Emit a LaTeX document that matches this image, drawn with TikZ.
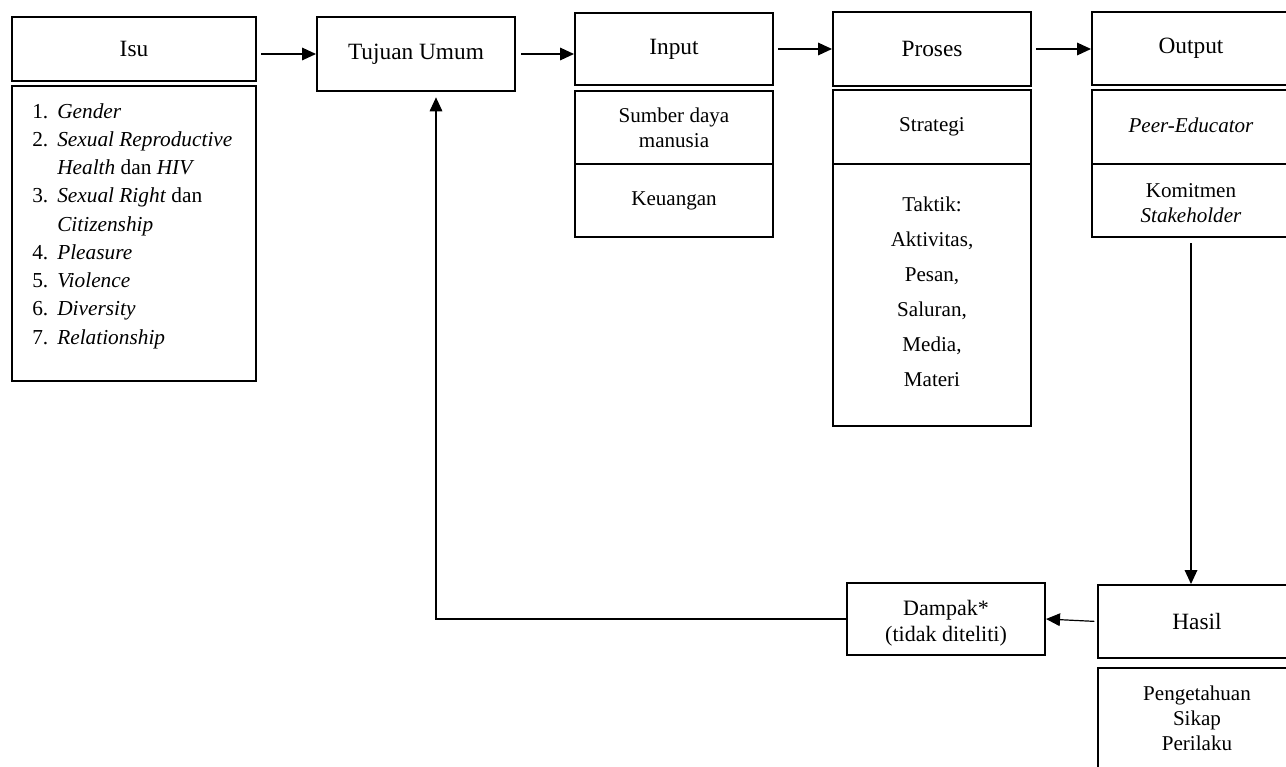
\documentclass[tikz,border=0pt]{standalone}
\usepackage{fontspec}
\setmainfont{Liberation Serif}
\usetikzlibrary{arrows.meta}
\begin{document}
\begin{tikzpicture}[x=0.75pt,y=-0.75pt,
  box/.style={draw,line width=1.5pt,inner sep=0pt,align=center,minimum width=148.5pt},
  ttl/.style={font=\fontsize{17.5}{21}\selectfont},
  subt/.style={font=\fontsize{15.8}{18.8}\selectfont,align=center,inner sep=0pt},
  arr/.style={line width=0.9pt,-{Triangle[length=10.5pt,width=9.5pt]}},
  ln/.style={line width=0.9pt}]
\useasboundingbox (0,0) rectangle (1286,767);
\clip (0,0) rectangle (1286,767);
% Isu
\node[box,ttl,minimum width=183pt,minimum height=48pt] (isu) at (134,49) {Isu};
\node[box,minimum width=183pt,minimum height=221.25pt] (isulist) at (134,233.5) {};
\node[anchor=west,inner sep=0pt,align=left,font=\fontsize{16}{21.2}\selectfont] (isutext) at (32,226)
 {\makebox[18.75pt][l]{1.}\textit{Gender}\\
  \makebox[18.75pt][l]{2.}\textit{Sexual Reproductive}\\
  \hspace*{18.75pt}\textit{Health} dan \textit{HIV}\\
  \makebox[18.75pt][l]{3.}\textit{Sexual Right} dan\\
  \hspace*{18.75pt}\textit{Citizenship}\\
  \makebox[18.75pt][l]{4.}\textit{Pleasure}\\
  \makebox[18.75pt][l]{5.}\textit{Violence}\\
  \makebox[18.75pt][l]{6.}\textit{Diversity}\\
  \makebox[18.75pt][l]{7.}\textit{Relationship}};
% Tujuan
\node[box,ttl,minimum height=55.5pt] (tujuan) at (416,54) {Tujuan Umum};
% Input
\node[box,ttl,minimum height=54pt] (input) at (674,49) {Input};
\node[box,subt,minimum height=54.75pt] (inA) at (674,127.5) {Sumber daya\\manusia};
\node[box,subt,minimum height=54.75pt] (inB) at (674,200.5) {Keuangan};
% Proses
\node[box,ttl,minimum height=55.5pt] (proses) at (932,49) {Proses};
\node[box,subt,minimum height=55.5pt] (prA) at (932,127) {Strategi};
\node[box,minimum height=196.5pt] (prB) at (932,295) {};
\node[subt,font=\fontsize{15.8}{26.25}\selectfont] (prBtext) at (932,292)
 {Taktik:\\Aktivitas,\\Pesan,\\Saluran,\\Media,\\Materi};
% Output
\node[box,ttl,minimum height=54.75pt] (output) at (1191,48.5) {Output};
\node[box,minimum height=55.5pt] (outA) at (1191,127) {};
\node[subt] (outAtext) at (1191,125) {\textit{Peer-Educator}};
\node[box,minimum height=54.75pt] (outB) at (1191,200.5) {};
\node[subt] (outBtext) at (1191,203.5) {Komitmen\\\textit{Stakeholder}};
% Hasil
\node[box,ttl,minimum height=54.75pt] (hasil) at (1197,621.5) {Hasil};
\node[box,subt,minimum height=75.75pt] (hasilB) at (1197,718.5) {Pengetahuan\\Sikap\\Perilaku};
% Dampak
\node[box,minimum height=54pt] (dampak) at (946,619) {};
\node[subt,font=\fontsize{16.5}{19.5}\selectfont] (dampaktext) at (946,623) {Dampak*\\(tidak diteliti)};
% connectors
\draw[arr,shorten <=3pt] (isu.east |- tujuan.west) -- (tujuan.west);
\draw[arr,shorten <=4pt] (tujuan.east) -- (tujuan.east -| input.west);
\draw[arr,shorten <=3pt] (input.east) -- (proses.west);
\draw[arr,shorten <=3pt] (proses.east) -- (proses.east -| output.west);
\draw[arr,shorten <=4pt] (outB.south) -- (outB.south |- hasil.north);
\draw[arr,shorten <=2pt] (hasil.west) -- (dampak.east);
\coordinate (bend) at (436,619);
\draw[arr,shorten >=4pt] (dampak.west) -- (dampak.west -| bend) -- (bend |- tujuan.south);
\end{tikzpicture}
\end{document}
